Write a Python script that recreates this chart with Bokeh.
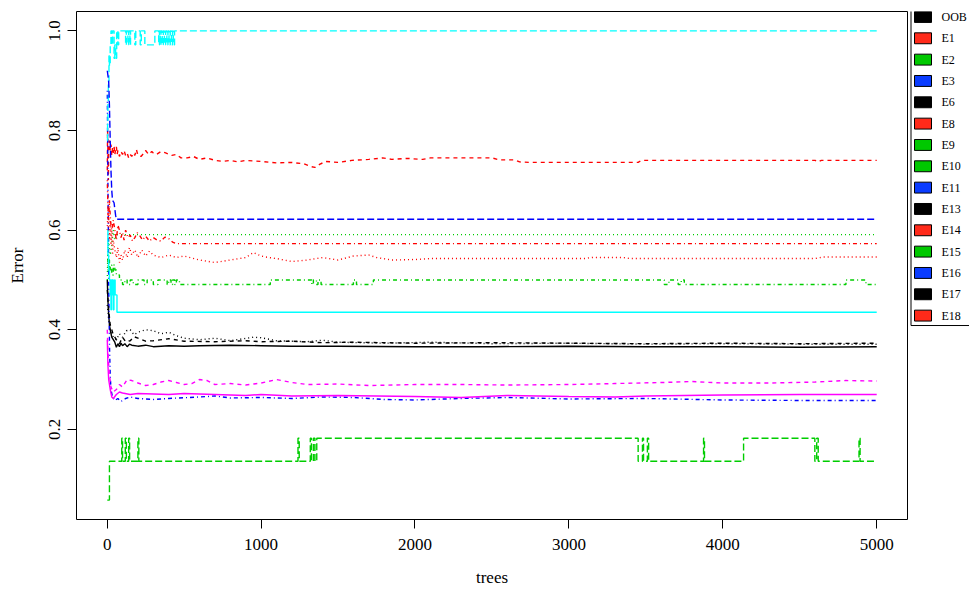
from bokeh.plotting import figure
from bokeh.layouts import row
from bokeh.models import Range1d, FixedTicker, PrintfTickFormatter
from bokeh.core.properties import value
from bokeh.embed import file_html
from bokeh.resources import INLINE

# ---- error rate per number of trees (random forest, OOB and per-class) ----
oob_trees = [1, 5, 10, 15, 20, 30, 40, 50, 60, 70, 80, 90, 100, 115, 130, 145, 160, 200, 250, 300,
             400, 500, 600, 800, 1000, 1200, 1500, 2000, 2500, 3000, 3500, 4000, 4500, 5000]
oob_err = [0.50, 0.46, 0.43, 0.41, 0.40, 0.385, 0.38, 0.375, 0.365, 0.372, 0.366, 0.373, 0.368,
           0.372, 0.366, 0.371, 0.369, 0.367, 0.369, 0.366, 0.368, 0.367, 0.368, 0.369, 0.368,
           0.367, 0.367, 0.366, 0.366, 0.367, 0.366, 0.366, 0.365, 0.366]

e1_trees = [1, 3, 5, 8, 10, 15, 20, 25, 30, 35, 40, 45, 50, 55, 60, 65, 70, 80, 90, 100, 110, 120,
            130, 140, 150, 160, 170, 180, 190, 200, 220, 240, 250, 270, 290, 300, 320, 350, 380,
            420, 450, 480, 520, 560, 600, 650, 700, 750, 800, 850, 900, 1000, 1100, 1200, 1280,
            1320, 1350, 1380, 1420, 1500, 1590, 1700, 1790, 1850, 1950, 2050, 2100, 2500, 2550,
            2650, 2680, 2750, 3450, 3470, 4600, 4620, 4640, 5000]
e1_err = [0.72, 0.80, 0.76, 0.70, 0.75, 0.78, 0.76, 0.772, 0.75, 0.765, 0.755, 0.768, 0.752,
          0.762, 0.768, 0.752, 0.76, 0.748, 0.758, 0.752, 0.76, 0.75, 0.755, 0.745, 0.752, 0.748,
          0.755, 0.75, 0.762, 0.75, 0.748, 0.755, 0.76, 0.752, 0.758, 0.755, 0.752, 0.758, 0.755,
          0.75, 0.752, 0.745, 0.745, 0.748, 0.742, 0.745, 0.74, 0.738, 0.74, 0.737, 0.74, 0.738,
          0.735, 0.736, 0.733, 0.728, 0.726, 0.732, 0.738, 0.736, 0.74, 0.742, 0.745, 0.742, 0.744,
          0.742, 0.745, 0.745, 0.741, 0.741, 0.737, 0.736, 0.736, 0.74, 0.74, 0.737, 0.74, 0.74]

e2_trees = [1, 5, 10, 20, 30, 40, 50, 60, 70, 5000]
e2_err = [0.50, 0.56, 0.58, 0.55, 0.57, 0.60, 0.58, 0.59, 0.591, 0.591]

e3_trees = [1, 3, 5, 8, 10, 13, 16, 20, 25, 35, 50, 70, 90, 120, 150, 200, 300, 400, 600, 700,
            800, 1000, 1200, 1400, 1600, 1800, 2000, 2300, 2600, 3000, 3500, 4000, 4500, 5000]
e3_err = [0.88, 0.80, 0.70, 0.60, 0.50, 0.42, 0.36, 0.31, 0.28, 0.265, 0.258, 0.262, 0.256, 0.262,
          0.265, 0.262, 0.26, 0.262, 0.265, 0.267, 0.263, 0.264, 0.262, 0.265, 0.264, 0.26, 0.259,
          0.262, 0.264, 0.261, 0.262, 0.259, 0.258, 0.258]

e6_trees = [1, 3, 5, 8, 12, 15, 20, 25, 30, 35, 45, 50, 55, 62, 70, 75, 120, 125, 135, 140, 148,
            152, 180, 186, 215, 222, 245, 310, 335, 340, 345, 350, 358, 365, 372, 380, 388, 395,
            402, 410, 418, 425, 430, 438, 5000]
e6_err = [0.78, 0.82, 0.86, 0.90, 0.95, 0.93, 0.972, 1.0, 0.972, 1.0, 0.945, 0.972, 0.945, 1.0,
          0.972, 1.0, 0.972, 1.0, 0.972, 1.0, 0.972, 1.0, 0.972, 1.0, 0.972, 1.0, 0.972, 1.0,
          0.972, 1.0, 0.972, 1.0, 0.972, 1.0, 0.972, 1.0, 0.972, 1.0, 0.972, 1.0, 0.972, 1.0,
          0.972, 1.0, 1.0]

e8_trees = [1, 5, 10, 20, 30, 40, 60, 80, 100, 150, 200, 300, 400, 500, 700, 900, 1000, 1200,
            1500, 2000, 2300, 2600, 3000, 3300, 3500, 4000, 4500, 5000]
e8_err = [0.38, 0.33, 0.30, 0.28, 0.265, 0.262, 0.27, 0.275, 0.273, 0.27, 0.272, 0.271, 0.27,
          0.272, 0.27, 0.268, 0.27, 0.267, 0.268, 0.266, 0.264, 0.268, 0.266, 0.265, 0.267, 0.269,
          0.27, 0.27]

e9_trees = [1, 10, 20, 40, 60, 80, 100, 120, 150, 175, 200, 250, 300, 400, 500, 700, 900, 1000,
            1200, 1400, 1600, 2000, 2500, 3000, 3500, 4000, 4500, 5000]
e9_err = [0.48, 0.44, 0.41, 0.39, 0.38, 0.372, 0.385, 0.376, 0.378, 0.386, 0.383, 0.377, 0.378,
          0.382, 0.377, 0.376, 0.378, 0.376, 0.377, 0.374, 0.375, 0.373, 0.374, 0.373, 0.372,
          0.373, 0.372, 0.373]

e10_trees = [1, 5, 10, 15, 20, 25, 30, 35, 40, 50, 60, 70, 80, 90, 100, 115, 130, 145, 160, 180,
             200, 225, 250, 275, 300, 350, 400, 450, 500, 600, 700, 800, 900, 950, 1000, 1050,
             1100, 1200, 1300, 1400, 1500, 1600, 1700, 1750, 1850, 2000, 2100, 3100, 3150, 3350,
             3400, 4600, 4650, 5000]
e10_err = [0.60, 0.64, 0.60, 0.58, 0.62, 0.57, 0.60, 0.55, 0.58, 0.56, 0.545, 0.565, 0.535, 0.55,
           0.54, 0.56, 0.545, 0.565, 0.55, 0.56, 0.545, 0.56, 0.548, 0.558, 0.55, 0.545, 0.55,
           0.545, 0.548, 0.54, 0.535, 0.54, 0.545, 0.555, 0.548, 0.545, 0.543, 0.537, 0.54, 0.545,
           0.54, 0.548, 0.55, 0.545, 0.54, 0.541, 0.543, 0.543, 0.545, 0.545, 0.543, 0.543, 0.546,
           0.546]

e11_trees = [1, 5, 10, 15, 20, 30, 40, 50, 60, 80, 100, 115, 130, 150, 170, 200, 240, 260, 300,
             330, 390, 400, 415, 425, 440, 450, 470, 1060, 1330, 1340, 1360, 1370, 1390, 1600,
             1620, 1730, 3620, 3650, 3710, 3730, 3750, 3795, 4800, 4930, 5000]
e11_err = [0.55, 0.52, 0.54, 0.52, 0.53, 0.51, 0.53, 0.52, 0.51, 0.50, 0.491, 0.50, 0.491, 0.50,
           0.491, 0.50, 0.491, 0.50, 0.491, 0.50, 0.491, 0.50, 0.491, 0.50, 0.491, 0.50, 0.491,
           0.50, 0.491, 0.50, 0.491, 0.50, 0.491, 0.50, 0.491, 0.50, 0.491, 0.50, 0.491, 0.50,
           0.491, 0.491, 0.50, 0.491, 0.491]

e13_trees = [1, 10, 15, 20, 25, 30, 35, 45, 55, 60, 5000]
e13_err = [0.92, 0.90, 0.85, 0.78, 0.72, 0.68, 0.66, 0.655, 0.63, 0.622, 0.622]

e14_trees = [1, 5, 10, 15, 20, 22, 25, 28, 32, 36, 40, 44, 48, 52, 64, 5000]
e14_err = [0.60, 0.55, 0.52, 0.50, 0.47, 0.50, 0.44, 0.50, 0.47, 0.50, 0.44, 0.47, 0.50, 0.47,
           0.435, 0.435]

e15_trees = [1, 5, 10, 15, 25, 40, 60, 80, 100, 130, 160, 200, 250, 300, 350, 400, 450, 500,
             550, 600, 650, 700, 800, 900, 1000, 1100, 1200, 1300, 1500, 1700, 2000, 2300, 2600,
             3000, 3300, 3600, 3800, 4000, 4300, 4600, 4800, 5000]
e15_err = [0.40, 0.36, 0.33, 0.31, 0.285, 0.275, 0.28, 0.29, 0.285, 0.30, 0.298, 0.293, 0.288,
           0.29, 0.295, 0.298, 0.294, 0.29, 0.292, 0.30, 0.298, 0.29, 0.292, 0.289, 0.293, 0.30,
           0.294, 0.29, 0.291, 0.288, 0.29, 0.29, 0.289, 0.29, 0.292, 0.294, 0.296, 0.293, 0.293,
           0.295, 0.298, 0.297]

e16_trees = [1, 10, 20, 40, 60, 80, 100, 125, 150, 175, 200, 250, 300, 350, 400, 450, 500, 600,
             700, 800, 950, 1000, 1100, 1300, 1400, 1500, 1800, 2100, 2500, 3000, 3500, 4000,
             4500, 5000]
e16_err = [0.45, 0.42, 0.40, 0.385, 0.38, 0.392, 0.385, 0.398, 0.40, 0.39, 0.395, 0.40, 0.398,
           0.392, 0.395, 0.388, 0.383, 0.38, 0.383, 0.378, 0.385, 0.384, 0.378, 0.376, 0.379,
           0.375, 0.373, 0.375, 0.372, 0.373, 0.371, 0.372, 0.371, 0.371]

e17_trees = [1, 5, 10, 15, 20, 25, 30, 40, 50, 60, 70, 80, 90, 100, 110, 120, 135, 150, 165, 180,
             195, 210, 230, 250, 275, 300, 325, 350, 375, 400, 425, 450, 5000]
e17_err = [0.70, 0.65, 0.62, 0.66, 0.63, 0.61, 0.60, 0.62, 0.60, 0.58, 0.61, 0.60, 0.585, 0.595,
           0.58, 0.60, 0.585, 0.59, 0.578, 0.585, 0.595, 0.59, 0.58, 0.588, 0.578, 0.585, 0.58,
           0.578, 0.586, 0.583, 0.576, 0.573, 0.573]

e18_trees = [1, 15, 95, 100, 118, 125, 140, 146, 200, 206, 1240, 1248, 1320, 1327, 1340, 1350,
             1362, 3450, 3478, 3485, 3510, 3518, 3875, 3881, 4135, 4598, 4610, 4620, 4885, 4892,
             5000]
e18_err = [0.058, 0.136, 0.182, 0.136, 0.182, 0.136, 0.182, 0.136, 0.182, 0.136, 0.182, 0.136,
           0.182, 0.136, 0.182, 0.136, 0.182, 0.136, 0.182, 0.136, 0.182, 0.136, 0.182, 0.136,
           0.182, 0.136, 0.182, 0.136, 0.182, 0.136, 0.136]

legend_labels = ["OOB", "E1", "E2", "E3", "E6", "E8", "E9", "E10", "E11", "E13", "E14", "E15",
                 "E16", "E17", "E18"]

# ---- styling (R matplot defaults: colours 1:6, line types 1:5) ----
BLACK, RED, GREEN, BLUE, CYAN, MAGENTA = "#000000", "#FF0000", "#00CD00", "#0000FF", "#00FFFF", "#FF00FF"
SOLID, DASHED, DOTTED, DOTDASH, LONGDASH = "solid", "4 4", "1 3", "1 3 4 3", "7 3"
LW = 1.4

series = [
    (oob_trees, oob_err, BLACK, SOLID, False),
    (e1_trees, e1_err, RED, DASHED, False),
    (e2_trees, e2_err, GREEN, DOTTED, False),
    (e3_trees, e3_err, BLUE, DOTDASH, False),
    (e6_trees, e6_err, CYAN, LONGDASH, True),
    (e8_trees, e8_err, MAGENTA, SOLID, False),
    (e9_trees, e9_err, BLACK, DASHED, False),
    (e10_trees, e10_err, RED, DOTTED, False),
    (e11_trees, e11_err, GREEN, DOTDASH, True),
    (e13_trees, e13_err, BLUE, LONGDASH, False),
    (e14_trees, e14_err, CYAN, SOLID, True),
    (e15_trees, e15_err, MAGENTA, DASHED, False),
    (e16_trees, e16_err, BLACK, DOTTED, False),
    (e17_trees, e17_err, RED, DOTDASH, False),
    (e18_trees, e18_err, GREEN, LONGDASH, True),
]

FONT = "Liberation Serif"
TOP, BOTTOM = 11, 66

p = figure(width=908, height=589, output_backend="svg", toolbar_location=None,
           x_range=Range1d(-199, 5200), y_range=Range1d(0.019, 1.039),
           min_border_left=76, min_border_right=1, min_border_top=TOP, min_border_bottom=BOTTOM)
p.background_fill_color = "white"
p.border_fill_color = "white"
p.outline_line_color = "black"
p.outline_line_width = 1
p.grid.visible = False

for xs, ys, color, dash, stepped in series:
    if stepped:
        p.step(xs, ys, mode="after", line_color=color, line_dash=dash, line_width=LW)
    else:
        p.line(xs, ys, line_color=color, line_dash=dash, line_width=LW)

p.xaxis.ticker = FixedTicker(ticks=[0, 1000, 2000, 3000, 4000, 5000])
p.yaxis.ticker = FixedTicker(ticks=[0.2, 0.4, 0.6, 0.8, 1.0])
p.yaxis.formatter = PrintfTickFormatter(format="%.1f")
p.yaxis.major_label_orientation = "parallel"
p.xaxis.axis_label = "trees"
p.yaxis.axis_label = "Error"
for ax in (p.xaxis[0], p.yaxis[0]):
    ax.axis_line_color = None
    ax.major_tick_out = 9
    ax.major_tick_in = 0
    ax.minor_tick_line_color = None
    ax.major_tick_line_color = "black"
    ax.major_label_text_font = FONT
    ax.major_label_text_font_size = "17px"
    ax.major_label_text_color = "black"
    ax.axis_label_text_font = FONT
    ax.axis_label_text_font_size = "17px"
    ax.axis_label_text_font_style = "normal"
    ax.axis_label_text_color = "black"
p.xaxis.major_label_standoff = 10
p.yaxis.major_label_standoff = 7
p.xaxis.axis_label_standoff = 15
p.yaxis.axis_label_standoff = 20

# ---- legend panel on the right edge (its frame shares the plot's top/bottom borders,
#      and its y range is in pixels from the top of the page) ----
legend_fill = [BLACK, "#FF2A1A", "#00C800", "#0A3CFF", BLACK, "#FF2A1A", "#00C800", "#00C800",
               "#0A3CFF", BLACK, "#FF2A1A", "#00C800", "#0A3CFF", BLACK, "#FF2A1A"]
lg = figure(width=61, height=589, output_backend="svg", toolbar_location=None,
            x_range=Range1d(908, 969), y_range=Range1d(589 - BOTTOM, TOP),
            min_border_left=0, min_border_right=0, min_border_top=TOP, min_border_bottom=BOTTOM,
            x_axis_location=None, y_axis_location=None)
lg.outline_line_color = None
lg.grid.visible = False
ycent = [16.5 + 21.5 * i for i in range(len(legend_labels))]
lg.quad(left=914, right=931, top=[y - 5.5 for y in ycent], bottom=[y + 5.5 for y in ycent],
        fill_color=legend_fill, line_color="black", line_width=1)
lg.text(x=941, y=ycent, text=legend_labels, text_font=value(FONT), text_font_size="12px",
        text_baseline="middle", text_align="left", text_color="black")
lg.line([910.5, 910.5, 975], [0, 327.5, 327.5], line_color="black", line_width=1)

page = row(p, lg)
open("out.html", "w").write(file_html(page, INLINE))
